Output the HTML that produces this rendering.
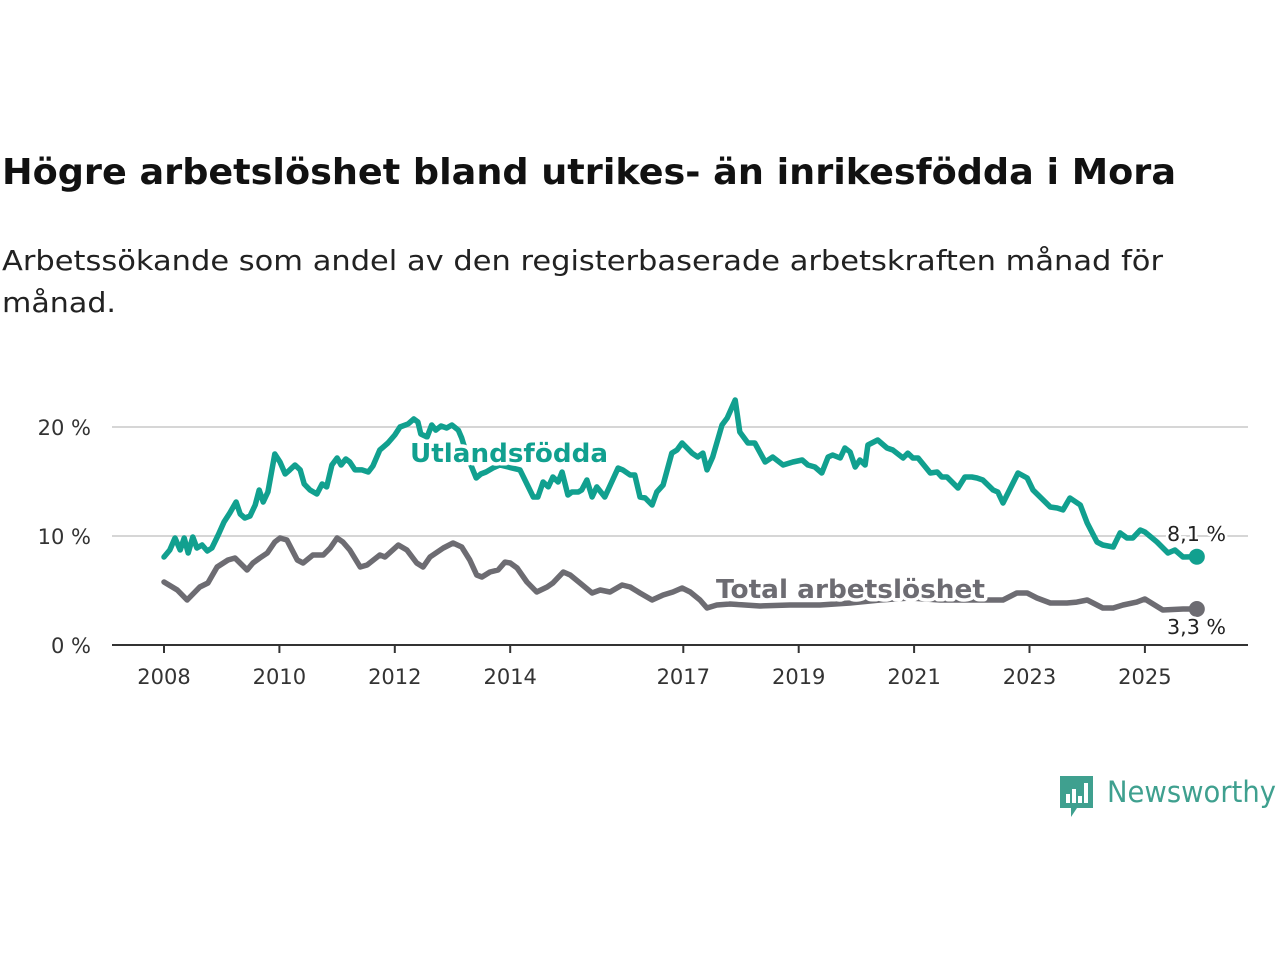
<!DOCTYPE html>
<html><head><meta charset="utf-8">
<style>
body{margin:0;background:#fff;width:1280px;height:960px;overflow:hidden;font-family:"DejaVu Sans","Liberation Sans",sans-serif;}
svg{position:absolute;left:0;top:0;}
</style></head><body>
<svg id="chart" width="1280" height="960">
<text x="2" y="184" font-size="36" font-weight="bold" fill="#111" textLength="1174" lengthAdjust="spacingAndGlyphs">Högre arbetslöshet bland utrikes- än inrikesfödda i Mora</text>
<text x="2" y="270" font-size="28" fill="#222" textLength="1161" lengthAdjust="spacingAndGlyphs">Arbetssökande som andel av den registerbaserade arbetskraften månad för</text>
<text x="2" y="312" font-size="28" fill="#222" textLength="114" lengthAdjust="spacingAndGlyphs">månad.</text>
<g>
<path d="M1060 776h33v32h-16l-6 9v-9h-11z" fill="#3fa08f"/>
<rect x="1066" y="794" width="4" height="9" fill="#fff"/><rect x="1072" y="789" width="4" height="14" fill="#fff"/><rect x="1078" y="796" width="4" height="7" fill="#fff"/><rect x="1084" y="783" width="4" height="20" fill="#fff"/>
<text x="1107" y="802" font-size="29" fill="#3fa08f" textLength="169" lengthAdjust="spacingAndGlyphs">Newsworthy</text>
</g>
</svg>
<script>
const yTicks=[0,10,20];
const yTickLabels=["0 %","10 %","20 %"];
const xTicks=[2008,2010,2012,2014,2017,2019,2021,2023,2025];
const utlDates=[2008.00,2008.10,2008.19,2008.28,2008.35,2008.42,2008.50,2008.57,2008.66,2008.75,2008.83,2008.94,2009.04,2009.14,2009.25,2009.32,2009.40,2009.49,2009.58,2009.65,2009.72,2009.80,2009.92,2010.01,2010.10,2010.18,2010.27,2010.36,2010.43,2010.53,2010.65,2010.74,2010.82,2010.91,2011.00,2011.07,2011.15,2011.22,2011.31,2011.43,2011.54,2011.62,2011.74,2011.88,2012.00,2012.09,2012.23,2012.33,2012.40,2012.45,2012.56,2012.64,2012.71,2012.80,2012.90,2012.99,2013.10,2013.16,2013.25,2013.34,2013.41,2013.49,2013.58,2013.70,2013.82,2014.17,2014.40,2014.48,2014.57,2014.66,2014.74,2014.83,2014.90,2015.00,2015.07,2015.18,2015.24,2015.33,2015.42,2015.50,2015.64,2015.87,2015.95,2016.08,2016.16,2016.25,2016.34,2016.46,2016.54,2016.65,2016.80,2016.89,2016.98,2017.15,2017.25,2017.34,2017.41,2017.51,2017.67,2017.76,2017.90,2017.98,2018.12,2018.24,2018.42,2018.55,2018.73,2018.90,2019.06,2019.16,2019.28,2019.40,2019.51,2019.59,2019.72,2019.80,2019.89,2019.98,2020.06,2020.15,2020.20,2020.37,2020.53,2020.63,2020.81,2020.89,2020.98,2021.07,2021.28,2021.40,2021.48,2021.57,2021.76,2021.88,2022.00,2022.09,2022.19,2022.37,2022.45,2022.54,2022.80,2022.96,2023.06,2023.36,2023.48,2023.58,2023.70,2023.88,2024.00,2024.17,2024.27,2024.45,2024.57,2024.69,2024.79,2024.92,2025.00,2025.21,2025.40,2025.52,2025.66,2025.90];
const utlValues=[8.07,8.72,9.82,8.72,9.82,8.44,9.91,8.90,9.17,8.62,8.90,10.09,11.28,12.11,13.12,12.02,11.65,11.83,12.84,14.22,13.12,14.04,17.52,16.79,15.69,16.06,16.51,16.06,14.77,14.22,13.85,14.77,14.50,16.51,17.16,16.51,17.06,16.79,16.06,16.06,15.87,16.42,17.89,18.53,19.27,20.00,20.28,20.73,20.46,19.36,19.08,20.18,19.72,20.09,19.91,20.18,19.72,18.99,17.43,16.24,15.32,15.69,15.87,16.24,16.51,16.06,13.58,13.58,14.95,14.50,15.41,14.95,15.87,13.76,14.04,14.04,14.22,15.14,13.58,14.50,13.58,16.24,16.06,15.60,15.60,13.58,13.49,12.84,14.04,14.68,17.61,17.89,18.53,17.61,17.25,17.61,16.06,17.25,20.18,20.83,22.48,19.54,18.53,18.53,16.79,17.25,16.51,16.79,16.97,16.51,16.33,15.78,17.25,17.43,17.16,18.07,17.71,16.33,16.97,16.51,18.35,18.81,18.07,17.89,17.16,17.61,17.16,17.16,15.78,15.87,15.41,15.41,14.40,15.41,15.41,15.32,15.14,14.22,14.04,13.03,15.78,15.32,14.22,12.66,12.57,12.39,13.49,12.84,11.19,9.45,9.17,8.99,10.28,9.82,9.82,10.55,10.37,9.45,8.44,8.72,8.07,8.1];
const totDates=[2008.00,2008.23,2008.40,2008.62,2008.76,2008.92,2009.11,2009.23,2009.44,2009.54,2009.66,2009.79,2009.92,2010.01,2010.13,2010.31,2010.41,2010.58,2010.76,2010.88,2011.00,2011.10,2011.22,2011.40,2011.52,2011.74,2011.83,2012.06,2012.21,2012.38,2012.49,2012.61,2012.84,2013.01,2013.16,2013.30,2013.42,2013.51,2013.65,2013.79,2013.91,2014.00,2014.12,2014.29,2014.46,2014.64,2014.74,2014.92,2015.04,2015.21,2015.42,2015.56,2015.73,2015.94,2016.08,2016.25,2016.46,2016.65,2016.82,2016.98,2017.12,2017.29,2017.41,2017.58,2017.81,2018.33,2018.85,2019.37,2019.89,2020.41,2020.93,2021.45,2021.88,2022.32,2022.54,2022.78,2022.96,2023.13,2023.36,2023.65,2023.82,2024.00,2024.27,2024.45,2024.62,2024.86,2025.00,2025.31,2025.66,2025.90];
const totValues=[5.78,5.05,4.13,5.32,5.69,7.16,7.80,7.98,6.88,7.52,7.98,8.44,9.45,9.82,9.63,7.80,7.52,8.26,8.26,8.90,9.82,9.45,8.72,7.16,7.34,8.26,8.07,9.17,8.72,7.52,7.16,8.07,8.90,9.36,8.99,7.80,6.42,6.24,6.70,6.88,7.61,7.52,7.06,5.78,4.86,5.32,5.69,6.70,6.42,5.69,4.77,5.05,4.86,5.50,5.32,4.77,4.13,4.59,4.86,5.23,4.86,4.13,3.39,3.67,3.76,3.58,3.67,3.67,3.85,4.13,4.31,4.13,4.13,4.13,4.13,4.77,4.77,4.31,3.85,3.85,3.94,4.13,3.39,3.39,3.67,3.94,4.22,3.21,3.30,3.3];
const lastUtlLabel="8,1 %", lastTotLabel="3,3 %";

const NS="http://www.w3.org/2000/svg";
const svg=document.getElementById('chart');
const X0=112,X1=1248;
const xs=yr=>164+(yr-2008)*57.7;
const ys=v=>645-v*10.9;
function mk(tag,attrs,parent){const e=document.createElementNS(NS,tag);for(const k in attrs)e.setAttribute(k,attrs[k]);(parent||svg).appendChild(e);return e;}
yTicks.forEach((t,i)=>{
  if(t>0){const g=mk('line',{x1:X0,x2:X1,y1:ys(t),y2:ys(t),stroke:'#d6d6d6','stroke-width':2});
  
  }
  const tx=mk('text',{x:91,y:ys(t)+8,'text-anchor':'end','font-size':21,fill:'#333'});
  tx.textContent=yTickLabels[i];
  
  
});
const ax=mk('line',{x1:X0,x2:X1,y1:645,y2:645,stroke:'#333','stroke-width':2});


xTicks.forEach(t=>{
  const tk=mk('line',{x1:xs(t),x2:xs(t),y1:645,y2:653,stroke:'#333','stroke-width':2});
  
  
  const tx=mk('text',{x:xs(t),y:684,'text-anchor':'middle','font-size':21,fill:'#333'});
  tx.textContent=t;
  
  
});
function line(d,v,col,name){
  const p=mk('path',{d:d.map((yr,i)=>(i?'L':'M')+xs(yr).toFixed(1)+','+ys(v[i]).toFixed(1)).join(''),fill:'none',stroke:col,'stroke-width':5.5,'stroke-linejoin':'round','stroke-linecap':'round'});
  
  
}
line(utlDates,utlValues,'#11a08f','utlandsfodda-line');
line(totDates,totValues,'#6d6c72','total-line');
function label(x,y,txt,col,name,size,bold,len){
  const t=mk('text',{x:x,y:y,'font-size':size,'font-weight':bold?'bold':'normal',fill:col,stroke:'#fff','stroke-width':bold?7:5,'paint-order':'stroke','stroke-linejoin':'round',textLength:len,lengthAdjust:'spacingAndGlyphs'});
  t.textContent=txt;
  
  
}
label(410,462,'Utlandsfödda','#11a08f','series-label-utlandsfodda',26,true,198);
label(716,598,'Total arbetslöshet','#6d6c72','series-label-total',26,true,269);
const lu=utlDates.length-1, lt=totDates.length-1;
const d1=mk('circle',{cx:xs(utlDates[lu]),cy:ys(utlValues[lu]),r:8,fill:'#11a08f'});


const d2=mk('circle',{cx:xs(totDates[lt]),cy:ys(totValues[lt]),r:8,fill:'#6d6c72'});


label(1167,541,lastUtlLabel,'#222','end-label-utlandsfodda',20,false,59);
label(1167,634,lastTotLabel,'#222','end-label-total',20,false,59);
</script>
</body></html>
